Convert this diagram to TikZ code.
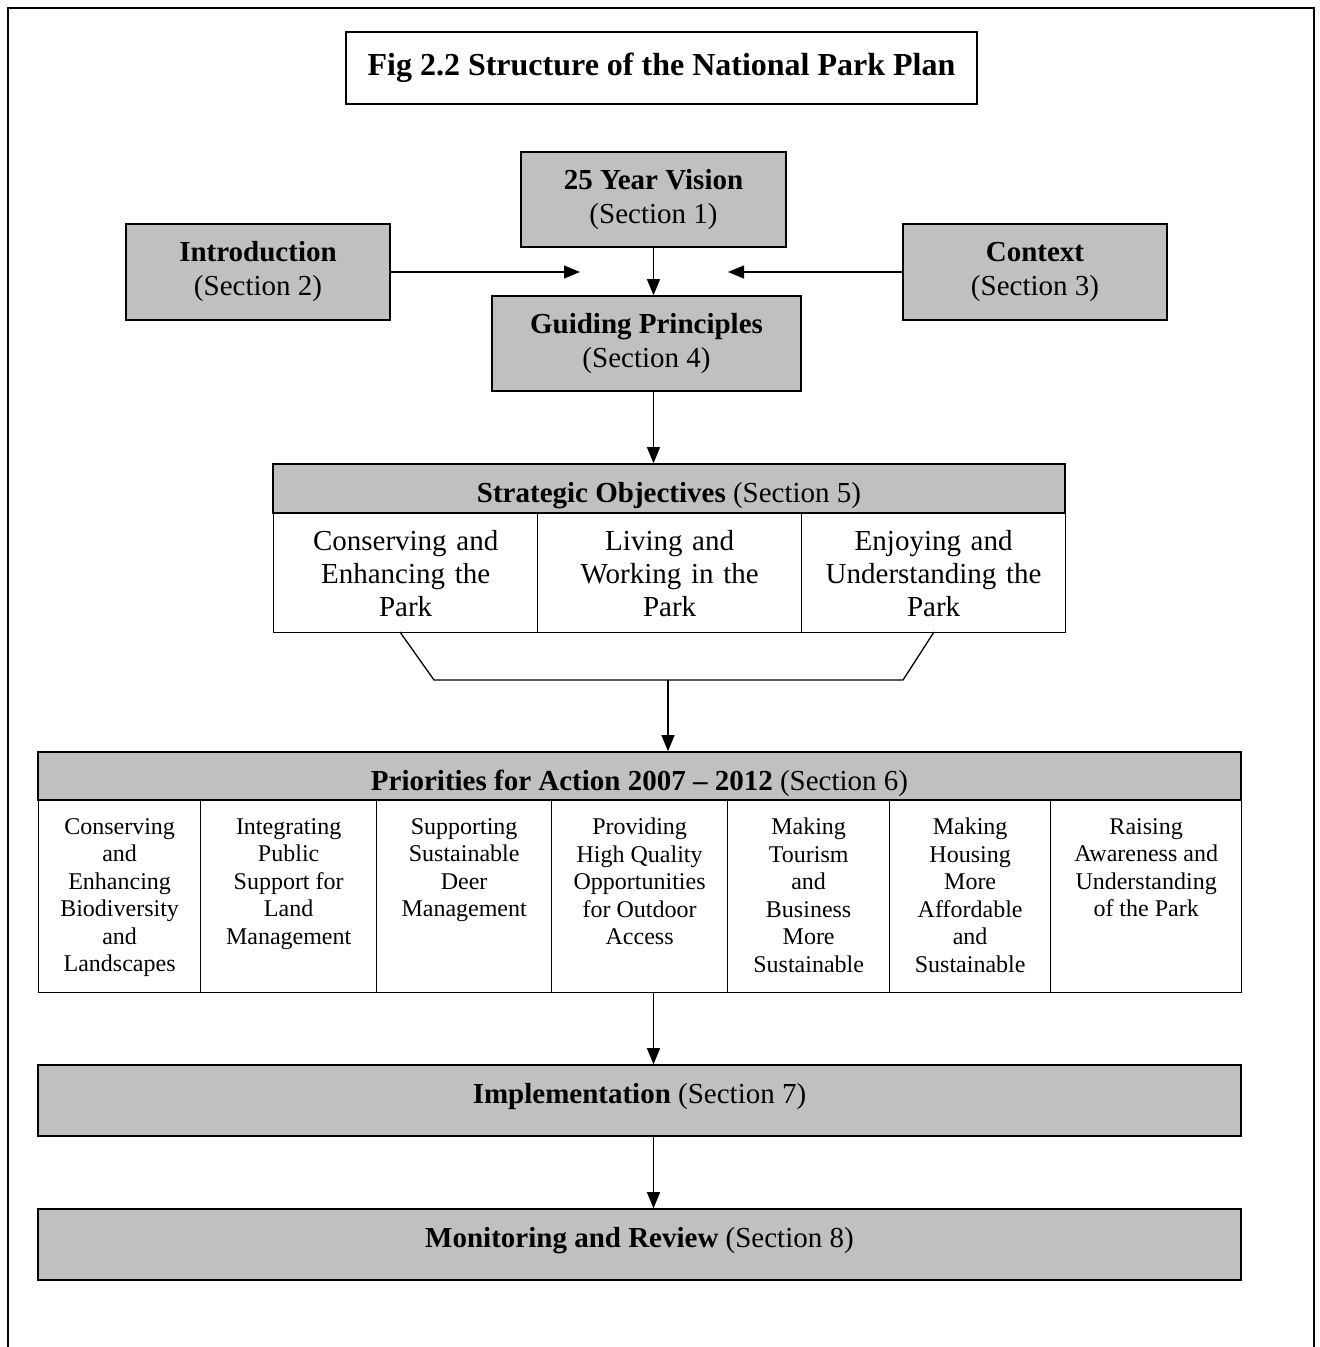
\documentclass[tikz,border=0pt]{standalone}
\usepackage{fontspec}
\setmainfont{Liberation Serif}
\usetikzlibrary{arrows.meta, positioning, calc}
\definecolor{boxgray}{HTML}{C0C0C0}

\tikzset{
  graybox/.style={draw=black, fill=boxgray, line width=1.6pt, align=center, inner sep=0pt,
    font=\fontsize{29}{34}\selectfont},
  lowtxt/.style={text height=34pt, text depth=6pt},
  hightxt/.style={text height=20pt, text depth=14pt},
  cellbox/.style={draw=black, fill=white, line width=1.3pt, anchor=north west, inner sep=0pt},
  celltxt/.style={font=\fontsize{24}{27.5}\selectfont, align=center, inner sep=0pt, anchor=north},
  arr/.style={line width=1.3pt, -{Triangle[length=16pt,width=13pt]}},
}

\begin{document}
\begin{tikzpicture}[x=1pt, y=-1pt]
  \useasboundingbox (0,0) rectangle (1320,1347);
  % Outer frame (open at the bottom)
  \draw[line width=1.6pt] (8,1347) -- (8,8) -- (1314,8) -- (1314,1347);

  % Title
  \node[draw, line width=1.6pt, minimum width=631pt, minimum height=72pt,
        font=\fontsize{32}{38}\selectfont\bfseries] (title) at (661.5,68)
        {Fig 2.2 Structure of the National Park Plan};

  % Upper boxes
  \node[graybox, minimum width=265pt, minimum height=95pt] (vision) at (653.5,199.5)
        {\textbf{25 Year Vision}\\(Section 1)};
  \node[graybox, minimum width=264pt, minimum height=96pt] (intro) at (258,272)
        {\textbf{Introduction}\\(Section 2)};
  \node[graybox, minimum width=264pt, minimum height=96pt] (context) at (1035,272)
        {\textbf{Context}\\(Section 3)};
  \node[graybox, minimum width=309pt, minimum height=95pt] (guiding) at (646.5,343.5)
        {\textbf{Guiding Principles}\\(Section 4)};
  \coordinate (introtip) at (580,272);
  \coordinate (contexttip) at (728,272);

  \draw[arr] (intro.east) -- (introtip);
  \draw[arr] (context.west) -- (contexttip);
  \draw[arr] (vision.south) -- (vision.south |- guiding.north);

  % Strategic objectives
  \node[graybox, lowtxt, minimum width=792pt, minimum height=49pt] (sohead) at (669,488.5)
        {\textbf{Strategic Objectives} (Section 5)};
  \draw[arr] (vision.south |- guiding.south) -- (vision.south |- sohead.north);
  \foreach \x/\txt [count=\i] in {273/{Conserving and\\Enhancing the\\Park},
                                  537/{Living and\\Working in the\\Park},
                                  801/{Enjoying and\\Understanding the\\Park}}
    \node[cellbox, minimum width=264pt, minimum height=119pt, text width=256pt,
          align=center, font=\fontsize{29}{33}\selectfont] (so\i) at (\x,513) {\txt};

  % Bracket joining the objectives
  \coordinate (brl) at (434,680);
  \coordinate (brr) at (903,680);
  \coordinate (brm) at (668,680);
  \draw[line width=1.3pt] (400,632) -- (brl) -- (brr) -- (934,632);

  % Priorities for action
  \node[graybox, lowtxt, minimum width=1203pt, minimum height=48pt] (pahead) at (639.5,776)
        {\textbf{Priorities for Action 2007 -- 2012} (Section 6)};
  \draw[arr] (brm) -- (brm |- pahead.north);
  \foreach \x/\w/\txt [count=\i] in {
      38/162/{Conserving\\and\\Enhancing\\Biodiversity\\and\\Landscapes},
      200/176/{Integrating\\Public\\Support for\\Land\\Management},
      376/175/{Supporting\\Sustainable\\Deer\\Management},
      551/176/{Providing\\High Quality\\Opportunities\\for Outdoor\\Access},
      727/162/{Making\\Tourism\\and\\Business\\More\\Sustainable},
      889/161/{Making\\Housing\\More\\Affordable\\and\\Sustainable},
      1050/191/{Raising\\Awareness and\\Understanding\\of the Park}}
  {
    \node[cellbox, minimum width=\w pt, minimum height=192pt] (pa\i) at (\x,800) {};
    \node[celltxt] at ([yshift=-18pt]pa\i.north) {\txt};
  }

  % Implementation and review
  \node[graybox, hightxt, minimum width=1203pt, minimum height=71pt] (impl) at (639.5,1100.5)
        {\textbf{Implementation} (Section 7)};
  \node[graybox, hightxt, minimum width=1203pt, minimum height=71pt] (review) at (639.5,1244.5)
        {\textbf{Monitoring and Review} (Section 8)};
  \draw[arr] (vision.south |- pa4.south) -- (vision.south |- impl.north);
  \draw[arr] (vision.south |- impl.south) -- (vision.south |- review.north);
\end{tikzpicture}
\end{document}
